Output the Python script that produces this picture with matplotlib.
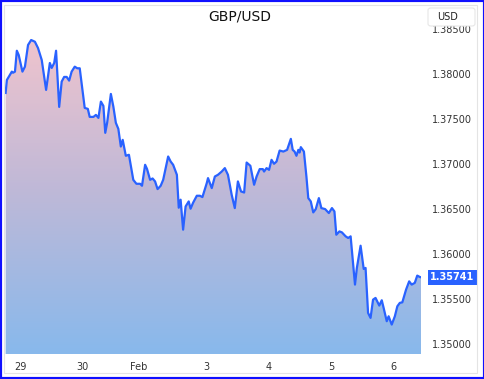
import matplotlib.pyplot as plt
import numpy as np
from matplotlib.colors import LinearSegmentedColormap
from matplotlib.patches import Rectangle, FancyBboxPatch

# Dados (dias desde 29 jan, taxa GBP/USD)
dias = [-0.23, -0.21, -0.13, -0.11, -0.08, -0.05, -0.02, 0.04, 0.08, 0.13,
        0.18, 0.24, 0.29, 0.35, 0.42, 0.48, 0.51, 0.55, 0.58, 0.63,
        0.67, 0.71, 0.75, 0.79, 0.83, 0.88, 0.92, 0.96, 1.01, 1.04,
        1.09, 1.12, 1.18, 1.22, 1.26, 1.30, 1.34, 1.37, 1.40, 1.46,
        1.50, 1.54, 1.58, 1.62, 1.65, 1.70, 1.75, 1.82, 1.87, 1.93,
        1.96, 2.01, 2.04, 2.09, 2.13, 2.17, 2.21, 2.26, 2.30, 2.38,
        2.42, 2.46, 2.52, 2.55, 2.58, 2.62, 2.66, 2.71, 2.74, 2.78,
        2.84, 2.89, 2.93, 3.00, 3.02, 3.08, 3.13, 3.18, 3.24, 3.29,
        3.34, 3.40, 3.45, 3.50, 3.55, 3.60, 3.64, 3.70, 3.76, 3.80,
        3.85, 3.90, 3.92, 3.96, 4.00, 4.04, 4.08, 4.12, 4.17, 4.23,
        4.29, 4.35, 4.38, 4.41, 4.44, 4.47, 4.49, 4.51, 4.56, 4.60,
        4.63, 4.67, 4.71, 4.75, 4.80, 4.84, 4.90, 4.96, 5.01, 5.05,
        5.08, 5.13, 5.17, 5.23, 5.27, 5.31, 5.38, 5.41, 5.47, 5.52,
        5.55, 5.59, 5.63, 5.67, 5.71, 5.77, 5.81, 5.84, 5.89, 5.92,
        5.97, 6.02, 6.06, 6.10, 6.14, 6.20, 6.25, 6.29, 6.34, 6.38,
        6.42, 6.44]

taxa = [1.37789, 1.37933, 1.38026, 1.38014, 1.38026, 1.38258, 1.38211, 1.38026, 1.38081, 1.38322,
        1.38377, 1.38358, 1.38288, 1.38155, 1.37823, 1.38122, 1.38067, 1.38122, 1.38258, 1.37634,
        1.37915, 1.37967, 1.37967, 1.37926, 1.38026, 1.38081, 1.38063, 1.38063, 1.37789, 1.37623,
        1.37612, 1.37523, 1.37523, 1.37545, 1.37512, 1.37693, 1.37645, 1.37346, 1.37457, 1.37778,
        1.37637, 1.37457, 1.37390, 1.37194, 1.37268, 1.37091, 1.37102, 1.36824, 1.36780, 1.36780,
        1.36758, 1.36991, 1.36946, 1.36824, 1.36839, 1.36806, 1.36721, 1.36758, 1.36824, 1.37083,
        1.37027, 1.36991, 1.36880, 1.36514, 1.36603, 1.36270, 1.36528, 1.36584, 1.36503, 1.36569,
        1.36647, 1.36647, 1.36632, 1.36788, 1.36843, 1.36732, 1.36861, 1.36880, 1.36916, 1.36954,
        1.36880, 1.36658, 1.36510, 1.36806, 1.36695, 1.36683, 1.37016, 1.36980, 1.36769, 1.36861,
        1.36943, 1.36943, 1.36916, 1.36954, 1.36935, 1.37046, 1.37002, 1.37027, 1.37149, 1.37138,
        1.37157, 1.37279, 1.37157, 1.37138, 1.37091, 1.37157, 1.37127, 1.37187, 1.37138, 1.36861,
        1.36621, 1.36584, 1.36462, 1.36499, 1.36621, 1.36510, 1.36499, 1.36455, 1.36510, 1.36473,
        1.36214, 1.36251, 1.36240, 1.36196, 1.36178, 1.36196, 1.35660, 1.35845, 1.36092, 1.35834,
        1.35845, 1.35346, 1.35290, 1.35493, 1.35512, 1.35427, 1.35486, 1.35401, 1.35253, 1.35308,
        1.35216, 1.35308, 1.35419, 1.35457, 1.35463, 1.35604, 1.35696, 1.35660, 1.35679, 1.35760,
        1.35745, 1.35741]

tick_pos = [0, 1, 1.9, 3, 4, 5, 6]
tick_labels = ["29", "30", "Feb", "3", "4", "5", "6"]
y_ticks = [1.350, 1.355, 1.360, 1.365, 1.370, 1.375, 1.380, 1.385]

x = np.array(dias)
y = np.array(taxa)
ymin, ymax = 1.34889, 1.38555
xmin, xmax = -0.24, 6.44

fig = plt.figure(figsize=(4.85, 3.79), dpi=100)
ax = fig.add_axes([5 / 485, 25 / 379, 416 / 485, 330 / 379])

# gradiente rosa -> azul sob a linha
cmap = LinearSegmentedColormap.from_list("grad", ["#88b9ec", "#bdb8d8", "#f0c4cd"])
grad = np.linspace(0, 1, 256).reshape(-1, 1)
img = ax.imshow(grad, cmap=cmap, origin="lower", aspect="auto",
                extent=[xmin, xmax, ymin, 1.3840], zorder=1)
poly = ax.fill_between(x, y, ymin, color="none", lw=0)
clip = poly.get_paths()[0]
img.set_clip_path(clip, transform=ax.transData)

ax.plot(x, y, color="#2962ff", lw=1.6, zorder=3, solid_joinstyle="round")

ax.set_xlim(xmin, xmax)
ax.set_ylim(ymin, ymax)
for s in ax.spines.values():
    s.set_visible(False)
ax.yaxis.tick_right()
ax.set_yticks(y_ticks)
ax.set_yticklabels([f"{v:.5f}" for v in y_ticks])
ax.set_xticks(tick_pos)
ax.set_xticklabels(tick_labels)
ax.tick_params(axis="y", length=0, pad=8, labelsize=7, labelcolor="#333333")
ax.tick_params(axis="x", length=0, pad=6, labelsize=7, labelcolor="#333333")
ax.set_facecolor("white")

# rótulo do último preço
ax.annotate(f"{taxa[-1]:.5f}", xy=(1, taxa[-1]), xycoords=("axes fraction", "data"),
            xytext=(6.5, 0), textcoords="offset points", va="center", ha="left",
            fontsize=7, color="white", fontweight="bold",
            bbox=dict(boxstyle="square,pad=0.25", fc="#2962ff", ec="none"),
            annotation_clip=False, zorder=5)

fig.text(240 / 485, 1 - 16 / 379, "GBP/USD", ha="center", va="center", fontsize=10, color="#111111")

# caixa USD
fig.patches.append(FancyBboxPatch((428 / 485, 1 - 26 / 379), 47 / 485, 18 / 379,
                                  boxstyle="round,pad=0,rounding_size=0.006",
                                  transform=fig.transFigure, fc="white", ec="#e6e6e6", lw=0.8, zorder=10))
fig.text(437 / 485, 1 - 17 / 379, "USD", ha="left", va="center", fontsize=7, color="#222222", zorder=11)

# moldura
fig.patches.append(Rectangle((4 / 485, 6 / 379), 473 / 485, 368 / 379, transform=fig.transFigure,
                             fill=False, ec="#e4e4e4", lw=0.8))
fig.patches.append(Rectangle((0, 0), 1, 1, transform=fig.transFigure,
                             fill=False, ec="#1010ff", lw=3))

fig.savefig("out.png", dpi=100)
